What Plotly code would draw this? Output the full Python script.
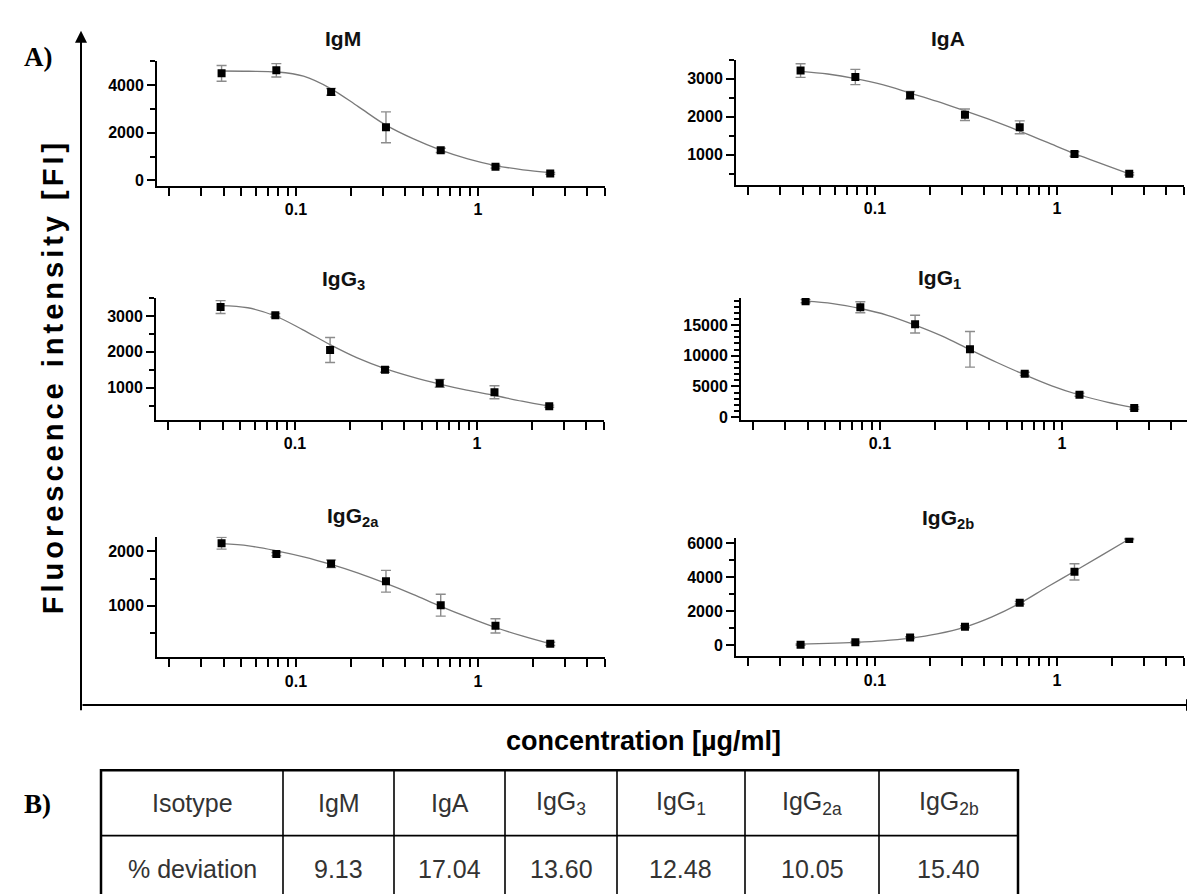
import plotly.graph_objects as go

# ---------------- data ----------------
conc = [0.039, 0.078, 0.156, 0.3125, 0.625, 1.25, 2.5]
curve_conc = [0.039, 0.055, 0.078, 0.11, 0.156, 0.22, 0.3125, 0.44, 0.625, 0.88, 1.25, 1.77, 2.5]

igm_mean = [4500, 4630, 3720, 2230, 1260, 570, 290]
igm_err = [330, 280, 140, 650, 90, 60, 40]
igm_curve = [4600, 4590, 4560, 4380, 3850, 3100, 2320, 1750, 1270, 900, 620, 440, 320]

iga_mean = [3210, 3040, 2560, 2050, 1720, 1020, 500]
iga_err = [180, 200, 100, 150, 170, 60, 30]
iga_curve = [3190, 3120, 3000, 2840, 2620, 2400, 2150, 1900, 1620, 1330, 1030, 760, 500]

igg3_mean = [3250, 3020, 2050, 1500, 1120, 870, 480]
igg3_err = [180, 50, 350, 70, 110, 180, 30]
igg3_curve = [3290, 3230, 3000, 2620, 2200, 1830, 1530, 1300, 1100, 930, 780, 620, 480]

igg1_mean = [18900, 17900, 15150, 11050, 7050, 3650, 1470]
igg1_err = [250, 900, 1450, 2900, 250, 250, 200]
igg1_curve = [18900, 18500, 17700, 16600, 15000, 13200, 11000, 8900, 6900, 5100, 3600, 2450, 1550]

igg2a_mean = [2150, 1950, 1770, 1450, 1010, 630, 300]
igg2a_err = [110, 30, 70, 200, 200, 130, 30]
igg2a_curve = [2140, 2100, 2010, 1900, 1760, 1600, 1410, 1210, 990, 790, 600, 440, 300]

igg2b_mean = [10, 160, 430, 1070, 2490, 4310, 6250]
igg2b_err = [40, 50, 50, 60, 80, 480, 40]
igg2b_curve = [50, 90, 150, 240, 400, 650, 1050, 1650, 2450, 3400, 4350, 5300, 6250]

x_tick_vals = [0.02, 0.03, 0.04, 0.05, 0.06, 0.07, 0.08, 0.09, 0.1,
               0.2, 0.3, 0.4, 0.5, 0.6, 0.7, 0.8, 0.9, 1, 2, 3, 4, 5]
x_tick_text = ["", "", "", "", "", "", "", "", "0.1",
               "", "", "", "", "", "", "", "", "1", "", "", "", ""]

panel_titles = ["IgM", "IgA", "IgG<sub>3</sub>", "IgG<sub>1</sub>", "IgG<sub>2a</sub>", "IgG<sub>2b</sub>"]
table_header = ["Isotype", "IgM", "IgA", "IgG<sub>3</sub>", "IgG<sub>1</sub>", "IgG<sub>2a</sub>", "IgG<sub>2b</sub>"]
row_label = "% deviation"
deviation = [9.13, 17.04, 13.60, 12.48, 10.05, 15.40]

# ---------------- layout helpers ----------------
W, H = 1195, 894
def px(x):
    return x / W
def py(y):
    return 1 - y / H

# per panel: (mean, err, curve, y-range, major dtick, minor dtick, x px span, y px span(top,bottom), title xy)
panels = [
    (igm_mean, igm_err, igm_curve, [-250, 5000], 2000, 1000, (149, 597), (51, 177), (335, 28)),
    (iga_mean, iga_err, iga_curve, [200, 3500], 1000, 500, (728, 1176), (49, 176), (940, 28)),
    (igg3_mean, igg3_err, igg3_curve, [100, 3500], 1000, 500, (148, 596), (290, 413), (335, 272)),
    (igg1_mean, igg1_err, igg1_curve, [-450, 19400], 5000, 1000, (733, 1181), (290, 413), (932, 271)),
    (igg2a_mean, igg2a_err, igg2a_curve, [50, 2270], 1000, 500, (149, 597), (531, 653), (345, 511)),
    (igg2b_mean, igg2b_err, igg2b_curve, [-680, 6330], 2000, 1000, (728, 1176), (532, 652), (940, 513)),
]

FONT = "Liberation Sans, Arial, sans-serif"
fig = go.Figure()
annotations = []
layout_axes = {}

def note(text, x, y, size, color="black", family=FONT, weight="normal", angle=0):
    return dict(text=text, x=px(x), y=py(y), xref="paper", yref="paper",
                showarrow=False, xanchor="center", yanchor="middle", textangle=angle,
                font=dict(family=family, size=size, color=color, weight=weight))

for i, (mean, err, curve, yr, dt, mdt, xs, ys, tpos) in enumerate(panels, start=1):
    xa = "x" if i == 1 else f"x{i}"
    ya = "y" if i == 1 else f"y{i}"
    fig.add_trace(go.Scatter(
        x=curve_conc, y=curve, mode="lines", xaxis=xa, yaxis=ya,
        line=dict(color="#7a7a7a", width=1.3, shape="spline"), showlegend=False,
        hoverinfo="skip"))
    fig.add_trace(go.Scatter(
        x=conc, y=mean, mode="markers", xaxis=xa, yaxis=ya,
        marker=dict(symbol="square", size=8, color="black"),
        error_y=dict(type="data", array=err, visible=True, color="#8c8c8c",
                     thickness=1.4, width=5),
        showlegend=False))
    xkey = "xaxis" if i == 1 else f"xaxis{i}"
    ykey = "yaxis" if i == 1 else f"yaxis{i}"
    layout_axes[xkey] = dict(
        domain=[px(xs[0]), px(xs[1])], anchor=ya, type="log",
        range=[-1.764, 0.699], showline=True, linecolor="black", linewidth=2,
        ticks="outside", ticklen=8, tickwidth=1.5, tickcolor="black",
        tickmode="array", tickvals=x_tick_vals, ticktext=x_tick_text,
        tickfont=dict(family=FONT, size=16, color="black", weight="bold"),
        showgrid=False, zeroline=False, fixedrange=True)
    layout_axes[ykey] = dict(
        domain=[py(ys[1]), py(ys[0])], anchor=xa, range=yr,
        showline=True, linecolor="black", linewidth=2,
        ticks="outside", ticklen=8, tickwidth=1.5, tickcolor="black",
        tick0=0, dtick=dt, tickformat="d",
        minor=dict(dtick=mdt, tick0=0, ticks="outside", ticklen=5,
                   tickwidth=1.5, tickcolor="black", showgrid=False),
        tickfont=dict(family=FONT, size=16, color="black", weight="bold"),
        showgrid=False, zeroline=False, fixedrange=True)
    annotations.append(note(panel_titles[i - 1], tpos[0], tpos[1], 21, "#111111", weight="bold"))

# big frame axes with arrows
annotations.append(dict(x=px(73), y=py(20), xref="paper", yref="paper", text="",
                        showarrow=True, ax=0, ay=681, axref="pixel", ayref="pixel",
                        arrowhead=2, arrowsize=1.2, arrowwidth=2, arrowcolor="black"))
annotations.append(dict(x=px(1190), y=py(701), xref="paper", yref="paper", text="",
                        showarrow=True, ax=-1117, ay=0, axref="pixel", ayref="pixel",
                        arrowhead=2, arrowsize=1.2, arrowwidth=2, arrowcolor="black"))

# panel letters and axis titles
SERIF = "Liberation Serif, Times New Roman, serif"
annotations.append(note("A)", 30, 46, 27, family=SERIF, weight="bold"))
annotations.append(note("B)", 29, 801, 27, family=SERIF, weight="bold"))
annotations.append(note("<span style='letter-spacing:4px'>Fluorescence intensity [FI]</span>",
                        45, 370, 29, weight="bold", angle=-90))
annotations.append(note("concentration [µg/ml]", 635, 737, 27, weight="bold"))

# table (B)
col_edges = [93, 275, 386, 497, 609, 737, 871, 1010]
row_edges = [767, 833, 905]
shapes = []
shapes.append(dict(type="rect", xref="paper", yref="paper",
                   x0=px(col_edges[0]), x1=px(col_edges[-1]), y0=py(row_edges[2]), y1=py(row_edges[0]),
                   line=dict(color="black", width=2.5)))
shapes.append(dict(type="line", xref="paper", yref="paper",
                   x0=px(col_edges[0]), x1=px(col_edges[-1]), y0=py(row_edges[1]), y1=py(row_edges[1]),
                   line=dict(color="black", width=1.6)))
for xe in col_edges[1:-1]:
    shapes.append(dict(type="line", xref="paper", yref="paper",
                       x0=px(xe), x1=px(xe), y0=py(row_edges[2]), y1=py(row_edges[0]),
                       line=dict(color="black", width=1.6)))

row2 = [row_label] + [f"{v:.2f}" for v in deviation]
for j in range(7):
    cx = (col_edges[j] + col_edges[j + 1]) / 2
    annotations.append(note(table_header[j], cx, 800, 25, "#333333"))
    annotations.append(note(row2[j], cx, 867, 25, "#333333"))

fig.update_layout(
    width=W, height=H, margin=dict(l=0, r=0, t=0, b=0),
    paper_bgcolor="white", plot_bgcolor="white",
    annotations=annotations, shapes=shapes, showlegend=False,
    **layout_axes)

fig.write_html("out.html")
